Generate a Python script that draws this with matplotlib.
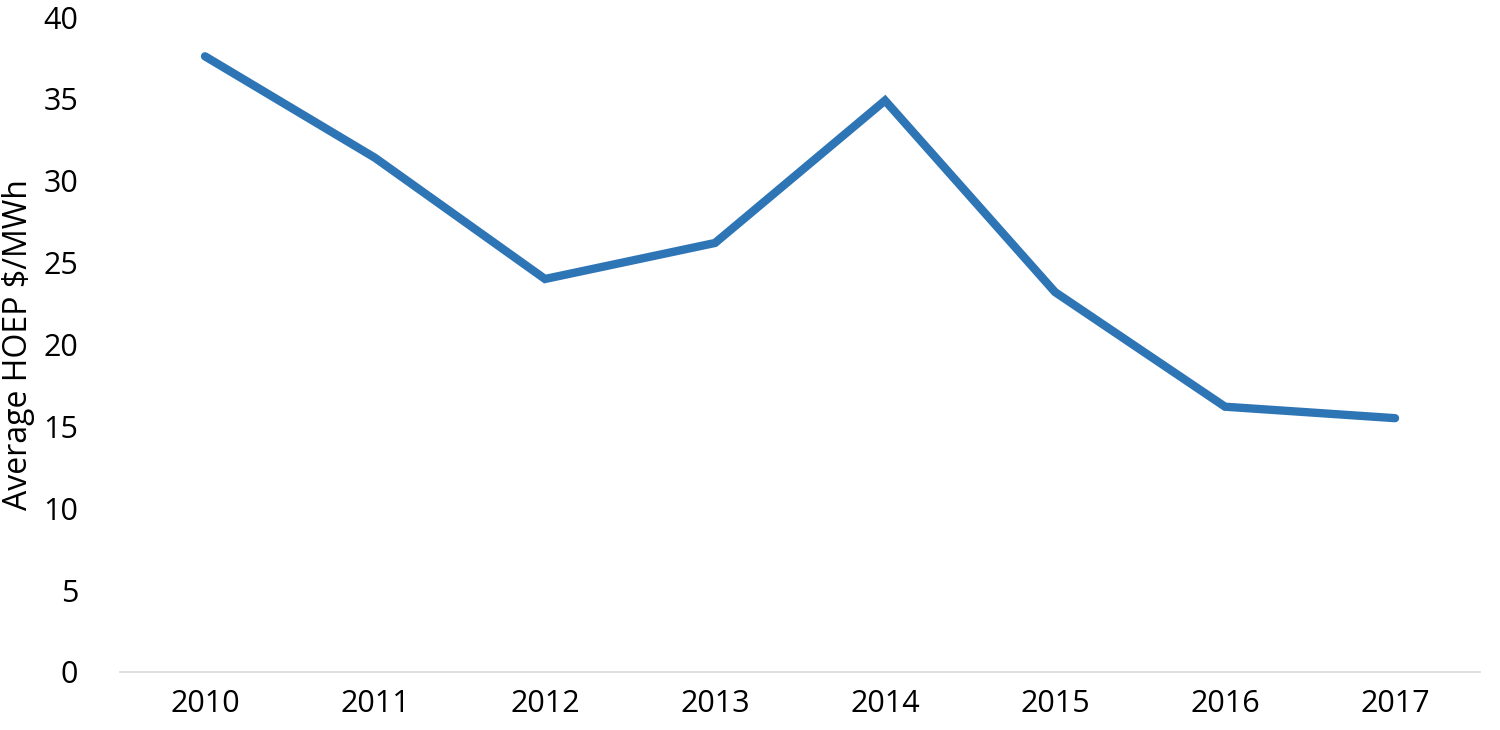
import numpy as np
import matplotlib
matplotlib.use("Agg")
import matplotlib.pyplot as plt

years = ['2010', '2011', '2012', '2013', '2014', '2015', '2016', '2017']
hoep = [37.6, 31.4, 24.0, 26.2, 34.9, 23.2, 16.2, 15.5]
yticks = [0, 5, 10, 15, 20, 25, 30, 35, 40]

plt.rcParams['font.family'] = ['Open Sans', 'DejaVu Sans']

fig = plt.figure(figsize=(15, 7.3), dpi=100)
ax = fig.add_axes([0.08, 0.0795, 0.9067, 0.8972])

x = np.arange(len(years))
ax.plot(x, hoep, color='#2E75B6', linewidth=6, solid_capstyle='round', solid_joinstyle='miter')

ax.set_xlim(-0.5, len(years) - 0.5)
ax.set_ylim(0, 40)
ax.set_xticks(x)
ax.set_xticklabels(years)
ax.set_yticks(yticks)
ax.tick_params(axis='both', length=0, labelsize=22, colors='#000000')
ax.tick_params(axis='x', pad=12)
ax.tick_params(axis='y', pad=30)

for s in ['top', 'right', 'left']:
    ax.spines[s].set_visible(False)
ax.spines['bottom'].set_color('#D9D9D9')
ax.spines['bottom'].set_linewidth(1.2)

ax.set_ylabel('Average HOEP $/MWh', fontsize=23, labelpad=6)

fig.savefig('out.png', dpi=100)
